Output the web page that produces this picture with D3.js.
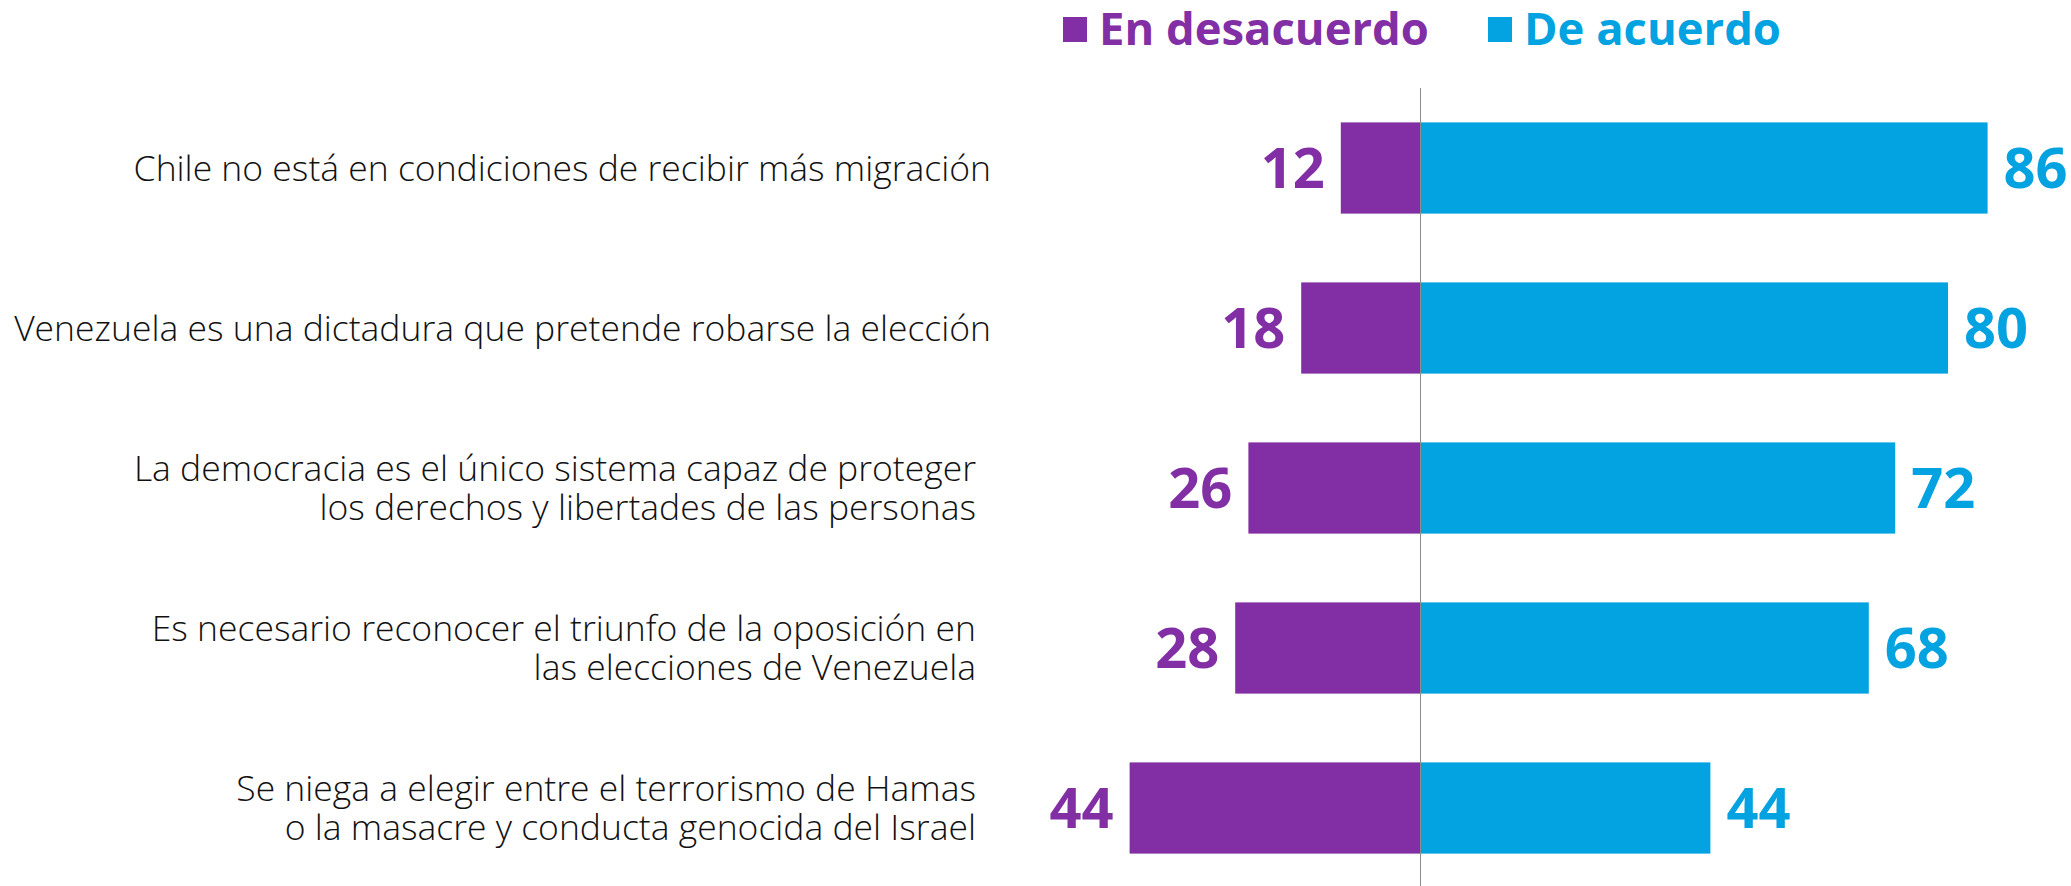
<!DOCTYPE html>
<html>
<head>
<meta charset="utf-8">
<script src="https://cdn.jsdelivr.net/npm/d3@7"></script>
<style>
  html, body { margin: 0; padding: 0; background: #fff; }
  svg { display: block; }
</style>
</head>
<body>
<div id="chart"></div>
<script>
// data
const categories = [
  ["Chile no está en condiciones de recibir más migración"],
  ["Venezuela es una dictadura que pretende robarse la elección"],
  ["La democracia es el único sistema capaz de proteger", "los derechos y libertades de las personas"],
  ["Es necesario reconocer el triunfo de la oposición en", "las elecciones de Venezuela"],
  ["Se niega a elegir entre el terrorismo de Hamas", "o la masacre y conducta genocida del Israel"]
];
const disagree = [12, 18, 26, 28, 44];
const agree = [86, 80, 72, 68, 44];
const seriesNames = ["En desacuerdo", "De acuerdo"];
const colors = ["#822EA5", "#03A2E0"];

const width = 2071, height = 886;
const centerX = 1420;

const svg = d3.select('#chart').append('svg')
  .attr('width', width)
  .attr('height', height);

const rows = categories.map((c, i) => ({ lines: c, key: c.join(' '), d: disagree[i], a: agree[i] }));

const y = d3.scaleBand()
  .domain(rows.map(r => r.key))
  .range([88, 888])
  .paddingInner(0.43)
  .paddingOuter(0.215);

const x = d3.scaleLinear()
  .domain([-100, 100])
  .range([centerX - 660, centerX + 660]);

// bars
const g = svg.append('g');
g.selectAll('rect.dis').data(rows).join('rect')
  .attr('class', 'dis')
  .attr('x', r => x(-r.d))
  .attr('y', r => y(r.key))
  .attr('width', r => x(0) - x(-r.d))
  .attr('height', y.bandwidth())
  .attr('fill', colors[0]);

g.selectAll('rect.agr').data(rows).join('rect')
  .attr('class', 'agr')
  .attr('x', x(0))
  .attr('y', r => y(r.key))
  .attr('width', r => x(r.a) - x(0))
  .attr('height', y.bandwidth())
  .attr('fill', colors[1]);

// center axis line
svg.append('line')
  .attr('x1', x(0) + 0.5).attr('x2', x(0) + 0.5)
  .attr('y1', 88).attr('y2', height)
  .attr('stroke', '#8c8c8c')
  .attr('stroke-width', 1);

// value labels
const numFont = 56;
const numStyle = sel => sel
  .attr('font-family', '"Open Sans", sans-serif')
  .attr('font-weight', 700)
  .attr('font-size', numFont);

g.selectAll('text.dis').data(rows).join('text')
  .attr('class', 'dis')
  .call(numStyle)
  .attr('x', r => x(-r.d) - 16)
  .attr('y', r => y(r.key) + y.bandwidth() / 2 + numFont * 0.36)
  .attr('text-anchor', 'end')
  .attr('fill', colors[0])
  .text(r => r.d);

g.selectAll('text.agr').data(rows).join('text')
  .attr('class', 'agr')
  .call(numStyle)
  .attr('x', r => x(r.a) + 16)
  .attr('y', r => y(r.key) + y.bandwidth() / 2 + numFont * 0.36)
  .attr('fill', colors[1])
  .text(r => r.a);

// category labels; fit font size to the widest single line
const probe = svg.append('text')
  .attr('font-family', '"Open Sans", sans-serif')
  .attr('font-weight', 300)
  .attr('font-size', 100)
  .text(categories[1][0]);
const labelFont = 100 * 977 / probe.node().getComputedTextLength();
probe.remove();

const lineGap = 39;
rows.forEach(r => {
  const cy = y(r.key) + y.bandwidth() / 2;
  const n = r.lines.length;
  const ax = n > 1 ? 976 : 991;
  const t = svg.append('text')
    .attr('font-family', '"Open Sans", sans-serif')
    .attr('font-weight', 300)
    .attr('font-size', labelFont)
    .attr('fill', '#111')
    .attr('text-anchor', 'end');
  r.lines.forEach((line, j) => {
    t.append('tspan')
      .attr('x', ax)
      .attr('y', cy + (j - (n - 1) / 2) * lineGap + labelFont * 0.36)
      .text(line);
  });
});

// legend
const legendPos = [{ sq: 1063, tx: 1099 }, { sq: 1488, tx: 1524 }];
const lp = svg.append('text')
  .attr('font-family', '"Open Sans", sans-serif')
  .attr('font-weight', 700)
  .attr('font-size', 100)
  .text(seriesNames[0]);
const legendFont = 100 * 330 / lp.node().getComputedTextLength();
lp.remove();

const legend = svg.append('g');
seriesNames.forEach((name, i) => {
  legend.append('rect')
    .attr('x', legendPos[i].sq)
    .attr('y', 17)
    .attr('width', 24)
    .attr('height', 25)
    .attr('fill', colors[i]);
  legend.append('text')
    .attr('x', legendPos[i].tx)
    .attr('y', 45)
    .attr('font-family', '"Open Sans", sans-serif')
    .attr('font-weight', 700)
    .attr('font-size', legendFont)
    .attr('fill', colors[i])
    .text(name);
});
</script>
</body>
</html>
